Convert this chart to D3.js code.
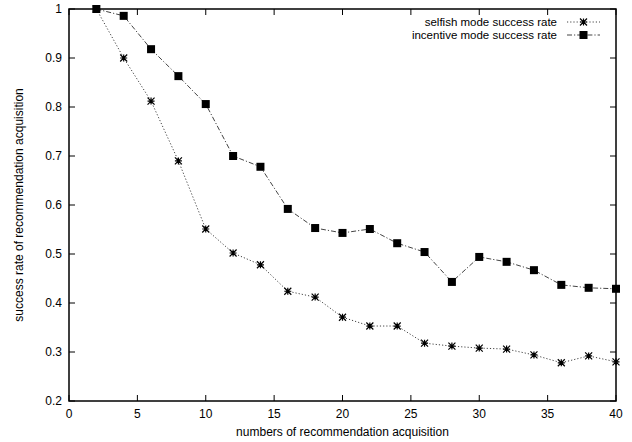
<!DOCTYPE html>
<html lang="en">
  <head>
    <meta charset="UTF-8" />
    <title>Recommendation acquisition success rate</title>
    <script src="https://d3js.org/d3.v7.min.js"></script>
    <style>
      body {
        margin: 0;
        background: #fff;
      }
      svg {
        display: block;
        font-family: "Liberation Sans", Arial, sans-serif;
      }
    </style>
  </head>
  <body>
    <svg id="chart" width="632" height="442"></svg>

    <script>
      const xValues = [2, 4, 6, 8, 10, 12, 14, 16, 18, 20, 22, 24, 26, 28, 30, 32, 34, 36, 38, 40];
      const selfishRate = [1.0, 0.9, 0.812, 0.69, 0.551, 0.502, 0.478, 0.424, 0.412, 0.371,
        0.353, 0.353, 0.318, 0.312, 0.308, 0.306, 0.294, 0.278, 0.292, 0.28];
      const incentiveRate = [1.0, 0.986, 0.918, 0.863, 0.806, 0.7, 0.678, 0.592, 0.553, 0.543,
        0.551, 0.522, 0.504, 0.443, 0.494, 0.484, 0.467, 0.437, 0.431, 0.429];
      const xTicks = [0, 5, 10, 15, 20, 25, 30, 35, 40];
      const yTicks = [0.2, 0.3, 0.4, 0.5, 0.6, 0.7, 0.8, 0.9, 1];

      const series = [
        { name: "selfish mode success rate", values: selfishRate, dash: "1.2,2", marker: "star" },
        { name: "incentive mode success rate", values: incentiveRate, dash: "5,2,1.2,2", marker: "square" },
      ];

      const plotL = 69, plotR = 616, plotT = 9, plotB = 401;
      const svg = d3.select("#chart");

      const x = d3.scaleLinear().domain([0, 40]).range([plotL, plotR]);
      const y = d3.scaleLinear().domain([0.2, 1]).range([plotB, plotT]);

      // ticks, pointing inward on all four sides
      const tickLen = 6;
      const ticks = svg.append("g").attr("stroke", "#000").attr("stroke-width", 1);
      xTicks.forEach((t) => {
        ticks.append("line").attr("x1", x(t)).attr("x2", x(t)).attr("y1", plotB).attr("y2", plotB - tickLen);
        ticks.append("line").attr("x1", x(t)).attr("x2", x(t)).attr("y1", plotT).attr("y2", plotT + tickLen);
      });
      yTicks.forEach((t) => {
        ticks.append("line").attr("x1", plotL).attr("x2", plotL + tickLen).attr("y1", y(t)).attr("y2", y(t));
        ticks.append("line").attr("x1", plotR).attr("x2", plotR - tickLen).attr("y1", y(t)).attr("y2", y(t));
      });

      svg
        .selectAll(".xlabel")
        .data(xTicks)
        .enter()
        .append("text")
        .attr("x", (d) => x(d))
        .attr("y", plotB + 17)
        .attr("text-anchor", "middle")
        .attr("font-size", 12)
        .text((d) => d);

      svg
        .selectAll(".ylabel")
        .data(yTicks)
        .enter()
        .append("text")
        .attr("x", plotL - 7)
        .attr("y", (d) => y(d) + 4)
        .attr("text-anchor", "end")
        .attr("font-size", 12)
        .text((d) => d);

      svg
        .append("text")
        .attr("x", (plotL + plotR) / 2)
        .attr("y", 436)
        .attr("text-anchor", "middle")
        .attr("font-size", 12)
        .text("numbers of recommendation acquisition");

      svg
        .append("text")
        .attr("transform", `translate(23,${(plotT + plotB) / 2}) rotate(-90)`)
        .attr("text-anchor", "middle")
        .attr("font-size", 12)
        .text("success rate of recommendation acquisition");

      function drawMarker(g, kind, cx, cy) {
        if (kind === "square") {
          g.append("rect")
            .attr("x", cx - 4)
            .attr("y", cy - 4)
            .attr("width", 8)
            .attr("height", 8)
            .attr("fill", "#000");
        } else {
          const r = 3.5;
          g.append("path")
            .attr(
              "d",
              `M${cx - r},${cy}H${cx + r}M${cx},${cy - r}V${cy + r}` +
                `M${cx - r},${cy - r}L${cx + r},${cy + r}M${cx - r},${cy + r}L${cx + r},${cy - r}`
            )
            .attr("stroke", "#000")
            .attr("stroke-width", 1.2)
            .attr("fill", "none");
        }
      }

      const line = d3
        .line()
        .x((d) => x(d[0]))
        .y((d) => y(d[1]));

      series.forEach((s) => {
        const pts = xValues.map((v, i) => [v, s.values[i]]);
        svg
          .append("path")
          .datum(pts)
          .attr("d", line)
          .attr("fill", "none")
          .attr("stroke", "#444")
          .attr("stroke-width", 1)
          .attr("stroke-dasharray", s.dash);
        const g = svg.append("g");
        pts.forEach((p) => drawMarker(g, s.marker, x(p[0]), y(p[1])));
      });

      // legend
      series.forEach((s, i) => {
        const ly = 22 + i * 13;
        svg
          .append("text")
          .attr("x", 557)
          .attr("y", ly + 4)
          .attr("text-anchor", "end")
          .attr("font-size", 11.5)
          .text(s.name);
        svg
          .append("line")
          .attr("x1", 567)
          .attr("x2", 600)
          .attr("y1", ly)
          .attr("y2", ly)
          .attr("stroke", "#444")
          .attr("stroke-width", 1)
          .attr("stroke-dasharray", s.dash);
        drawMarker(svg.append("g"), s.marker, 583.5, ly);
      });

      // frame
      svg
        .append("rect")
        .attr("x", plotL)
        .attr("y", plotT)
        .attr("width", plotR - plotL)
        .attr("height", plotB - plotT)
        .attr("fill", "none")
        .attr("stroke", "#000")
        .attr("stroke-width", 1.5);
    </script>
  </body>
</html>
